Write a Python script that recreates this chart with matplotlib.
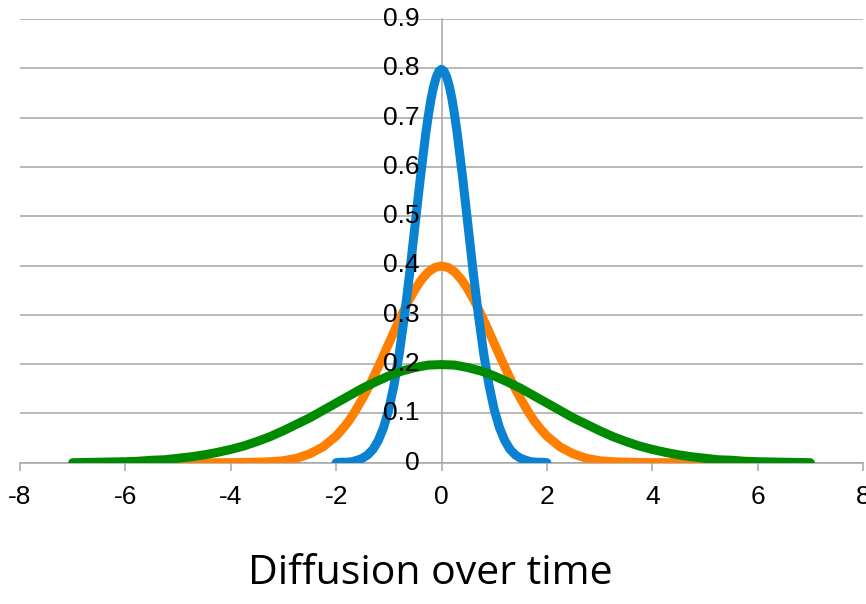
import matplotlib.pyplot as plt
from matplotlib.transforms import ScaledTranslation

# values
x_blue = [-2.0, -1.9, -1.8, -1.7, -1.6, -1.5, -1.4, -1.3, -1.2, -1.1, -1.0, -0.9, -0.8, -0.7, -0.6, -0.5,
          -0.4, -0.3, -0.25, -0.2, -0.15, -0.1, -0.05, 0.0, 0.05, 0.1, 0.15, 0.2, 0.25, 0.3, 0.4,
          0.5, 0.6, 0.7, 0.8, 0.9, 1.0, 1.1, 1.2, 1.3, 1.4, 1.5, 1.6, 1.7, 1.8, 1.9, 2.0]
y_blue = [0.000, 0.001, 0.001, 0.002, 0.005, 0.009, 0.016, 0.027, 0.045, 0.071, 0.108, 0.158, 0.222, 0.300, 0.388, 0.484,
          0.579, 0.667, 0.704, 0.737, 0.763, 0.782, 0.794, 0.798, 0.794, 0.782, 0.763, 0.737, 0.704, 0.667, 0.579,
          0.484, 0.388, 0.300, 0.222, 0.158, 0.108, 0.071, 0.045, 0.027, 0.016, 0.009, 0.005, 0.002, 0.001, 0.001, 0.000]

x_orange = [-5.0, -4.5, -4.0, -3.5, -3.25, -3.0, -2.75, -2.5, -2.25, -2.0, -1.875, -1.75, -1.625, -1.5, -1.375,
            -1.25, -1.125, -1.0, -0.875, -0.75, -0.625, -0.5, -0.375, -0.25, -0.125, 0.0,
            0.125, 0.25, 0.375, 0.5, 0.625, 0.75, 0.875, 1.0, 1.125, 1.25, 1.375, 1.5, 1.625, 1.75, 1.875,
            2.0, 2.25, 2.5, 2.75, 3.0, 3.25, 3.5, 4.0, 4.5, 5.0]
y_orange = [0.000, 0.000, 0.000, 0.001, 0.002, 0.004, 0.009, 0.018, 0.032, 0.054, 0.069, 0.086, 0.107, 0.130, 0.155,
            0.183, 0.212, 0.242, 0.272, 0.301, 0.328, 0.352, 0.372, 0.387, 0.396, 0.399,
            0.396, 0.387, 0.372, 0.352, 0.328, 0.301, 0.272, 0.242, 0.212, 0.183, 0.155, 0.130, 0.107, 0.086, 0.069,
            0.054, 0.032, 0.018, 0.009, 0.004, 0.002, 0.001, 0.000, 0.000, 0.000]

x_green = [-7.0, -6.5, -6.0, -5.75, -5.5, -5.25, -5.0, -4.75, -4.5, -4.25, -4.0, -3.75, -3.5, -3.25, -3.0,
           -2.75, -2.5, -2.25, -2.0, -1.75, -1.5, -1.25, -1.0, -0.75, -0.5, -0.25, 0.0,
           0.25, 0.5, 0.75, 1.0, 1.25, 1.5, 1.75, 2.0, 2.25, 2.5, 2.75, 3.0, 3.25, 3.5, 3.75,
           4.0, 4.25, 4.5, 4.75, 5.0, 5.25, 5.5, 5.75, 6.0, 6.5, 7.0]
y_green = [0.000, 0.001, 0.002, 0.003, 0.005, 0.006, 0.009, 0.012, 0.016, 0.021, 0.027, 0.034, 0.043, 0.053, 0.065,
           0.078, 0.091, 0.106, 0.121, 0.136, 0.151, 0.164, 0.176, 0.186, 0.193, 0.198, 0.199,
           0.198, 0.193, 0.186, 0.176, 0.164, 0.151, 0.136, 0.121, 0.106, 0.091, 0.078, 0.065, 0.053, 0.043, 0.034,
           0.027, 0.021, 0.016, 0.012, 0.009, 0.006, 0.005, 0.003, 0.002, 0.001, 0.000]

xticks = [-8, -6, -4, -2, 0, 2, 4, 6, 8]
yticks = [0, 0.1, 0.2, 0.3, 0.4, 0.5, 0.6, 0.7, 0.8, 0.9]
ytick_labels = ['0', '0.1', '0.2', '0.3', '0.4', '0.5', '0.6', '0.7', '0.8', '0.9']

fig = plt.figure(figsize=(8.66, 6.04), dpi=100)
ax = fig.add_axes([20/866, 141.3/604, 843/866, 443.7/604])

lw = 6.5
ax.plot(x_orange, y_orange, color='#FF7F00', lw=lw, solid_capstyle='round', solid_joinstyle='round', zorder=3)
ax.plot(x_blue, y_blue, color='#0A82D2', lw=lw, solid_capstyle='round', solid_joinstyle='round', zorder=4)
ax.plot(x_green, y_green, color='#008A00', lw=lw, solid_capstyle='round', solid_joinstyle='round', zorder=5)

ax.set_xlim(-8, 8)
ax.set_ylim(0, 0.9)
ax.set_xticks(xticks)
ax.set_xticklabels([str(v) for v in xticks], fontfamily='Liberation Sans', fontsize=19)
ax.set_yticks(yticks)
ax.set_yticklabels([])

ax.grid(axis='y', color='#A6A6A6', lw=1.1, zorder=1)
ax.set_axisbelow(True)

for s in ['top', 'right']:
    ax.spines[s].set_visible(False)
ax.spines['left'].set_position(('data', 0))
ax.spines['left'].set_color('#A6A6A6')
ax.spines['left'].set_linewidth(1.1)
ax.spines['left'].set_zorder(1.5)
ax.spines['bottom'].set_color('#A6A6A6')
ax.spines['bottom'].set_linewidth(1.1)

ax.tick_params(axis='y', length=0)
ax.tick_params(axis='x', length=6, width=1.1, color='#A6A6A6', pad=10)

# y tick labels sit beside the axis at x=0 and are drawn over the curves
off = ScaledTranslation(-22/100, 0, fig.dpi_scale_trans)
for v, lab in zip(yticks, ytick_labels):
    ax.text(0, v, lab, transform=ax.transData + off, ha='right', va='center',
            fontsize=19, fontfamily='Liberation Sans', zorder=10, clip_on=False)

fig.text(0.497, 0.033, 'Diffusion over time', ha='center', va='baseline',
         fontsize=29.5, fontfamily='Open Sans')

fig.savefig('out.png', dpi=100)
